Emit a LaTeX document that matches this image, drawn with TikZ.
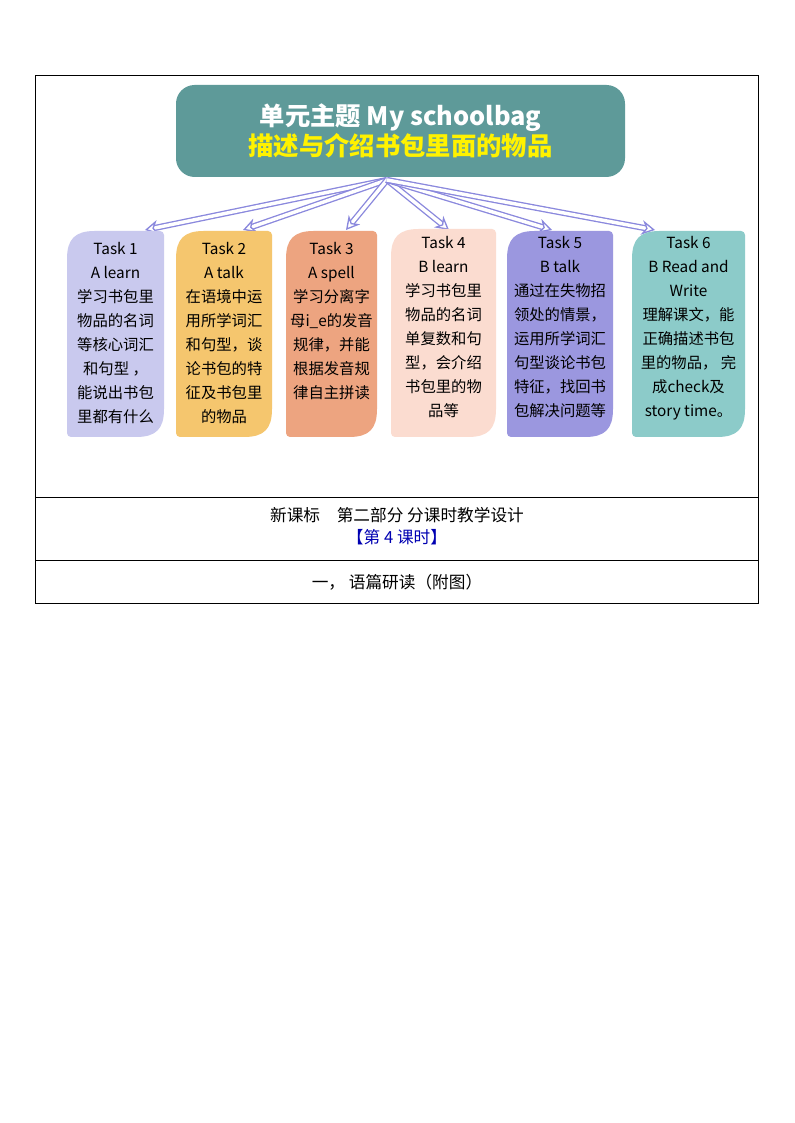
\documentclass[tikz,border=0pt]{standalone}
\usepackage{fontspec}
\usetikzlibrary{arrows.meta}
\setmainfont{Noto Sans CJK SC}
\definecolor{teal1}{HTML}{5E9A99}
\definecolor{c1}{HTML}{C9C9EE}
\definecolor{c2}{HTML}{F5C66E}
\definecolor{c3}{HTML}{EDA480}
\definecolor{c4}{HTML}{FBDCD0}
\definecolor{c5}{HTML}{9B97DF}
\definecolor{c6}{HTML}{8CCBC9}
\definecolor{arr}{HTML}{8A88DD}
\newcommand\leafbox[5]{\fill[#5,rounded corners=3] (#1,#4-32) .. controls (#1,#4-8) and (#1+8,#4) .. (#1+32,#4) -- (#2,#4) -- (#2,#3+32) .. controls (#2,#3+8) and (#2-8,#3) .. (#2-32,#3) -- (#1,#3) -- cycle;}
\tikzset{txt/.style={font=\fontsize{11.5}{18}\selectfont,align=center,inner sep=0pt,anchor=north},
 fan/.style={draw=arr,double=white,double distance=2.6pt,line width=1pt,-{Stealth[open,length=10pt,width=11pt,fill=white]}}}
\begin{document}
\begin{tikzpicture}[x=0.75pt,y=0.75pt]
\fill[white] (0,0) rectangle (794,1123);
\useasboundingbox (0,0) rectangle (794,1123);
\draw[line width=0.6pt] (35,1123-75) rectangle (758,1123-603);
\draw[line width=0.6pt] (35,1123-497) -- (758,1123-497);
\draw[line width=0.6pt] (35,1123-560) -- (758,1123-560);
\node[fill=teal1,rounded corners=14pt,minimum width=449*0.75pt,minimum height=92*0.75pt,inner sep=0pt] (title) at (400.5,1123-131) {};
\node[font=\fontsize{19}{25}\selectfont\bfseries,align=center,text=white] (tt) at (title.center) {单元主题 My schoolbag\\[-3pt]\textcolor{yellow}{描述与介绍书包里面的物品}};
\coordinate (o) at (387,1123-180);
\foreach \n/\x in {1/145,2/243,3/346,4/449,5/552,6/655}{\coordinate (a\n) at (\x,1123-230);}
\foreach \n in {1,...,6}{\draw[fan] (o) -- (a\n);}
\leafbox{67}{164}{1123-437}{1123-231}{c1}
\leafbox{176}{272}{1123-437}{1123-231}{c2}
\leafbox{286}{377}{1123-437}{1123-231}{c3}
\leafbox{391}{496}{1123-437}{1123-229}{c4}
\leafbox{507}{613}{1123-437}{1123-231}{c5}
\leafbox{632}{745}{1123-437}{1123-231}{c6}
\node[txt] (t1) at (115.5,1123-242) {Task 1\\A learn\\学习书包里\\物品的名词\\等核心词汇\\和句型 ，\\能说出书包\\里都有什么};
\node[txt] (t2) at (224,1123-242) {Task 2\\A talk\\在语境中运\\用所学词汇\\和句型，谈\\论书包的特\\征及书包里\\的物品};
\node[txt] (t3) at (331.5,1123-242) {Task 3\\A spell\\学习分离字\\母i\_e的发音\\规律，并能\\根据发音规\\律自主拼读};
\node[txt] (t4) at (443.5,1123-236) {Task 4\\B learn\\学习书包里\\物品的名词\\单复数和句\\型，会介绍\\书包里的物\\品等};
\node[txt] (t5) at (560,1123-236) {Task 5\\B talk\\通过在失物招\\领处的情景，\\运用所学词汇\\句型谈论书包\\特征，找回书\\包解决问题等};
\node[txt] (t6) at (688.5,1123-236) {Task 6\\B Read and\\Write\\理解课文，能\\正确描述书包\\里的物品， 完\\成check及\\story time。};
\node[font=\fontsize{12.5}{17}\selectfont,align=center] (h1) at (397,1123-526) {新课标\quad 第二部分 分课时教学设计\\\textcolor{blue!70!black}{【第 4 课时】}};
\node[font=\fontsize{12.5}{17}\selectfont] (h2) at (397,1123-582) {一，\ 语篇研读（附图）};
\end{tikzpicture}
\end{document}
